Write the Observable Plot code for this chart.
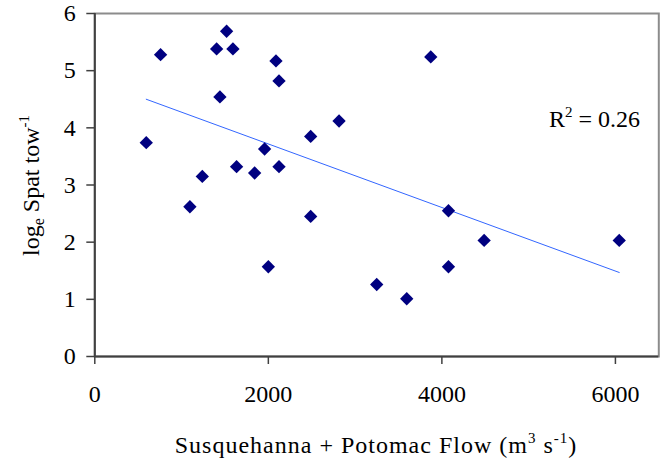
<!DOCTYPE html>
<html><head><meta charset="utf-8">
<script src="https://cdn.jsdelivr.net/npm/d3@7"></script>
<script src="https://cdn.jsdelivr.net/npm/@observablehq/plot@0.6"></script>
<style>
html,body{margin:0;padding:0;background:#fff}
#chart svg{display:block}
</style>
</head><body><div id="chart"></div>
<script>
// Data
const flow = [593, 758, 1096, 1239, 1404, 1442, 1519, 1592, 1634, 1842, 1957, 2000, 2088, 2123, 2123, 2488, 2488, 2815, 3249, 3595, 3872, 4076, 4076, 4487, 6044];
const spat = [3.74, 5.28, 2.62, 3.15, 5.38, 4.54, 5.69, 5.38, 3.32, 3.21, 3.63, 1.57, 5.17, 4.82, 3.32, 3.85, 2.45, 4.12, 1.26, 1.01, 5.24, 2.55, 1.57, 2.03, 2.03];
const trendX = [593, 6044];
const trendY = [4.50, 1.47];
const xTicks = [0, 2000, 4000, 6000];
const yTicks = [0, 1, 2, 3, 4, 5, 6];
const r2Label = "0.26";

const points = flow.map((f, i) => ({flow: f, spat: spat[i]}));
const trend = trendX.map((f, i) => ({flow: f, spat: trendY[i]}));

const FONT = "'Liberation Serif', 'Times New Roman', serif";

const plot = Plot.plot({
  width: 661,
  height: 465,
  marginLeft: 94.3,
  marginRight: 2.7,
  marginTop: 13,
  marginBottom: 109,
  style: {fontFamily: FONT, fontSize: "24px", color: "#000", background: "#fff", overflow: "visible"},
  x: {domain: [0, 6500]},
  y: {domain: [0, 6]},
  marks: [
    Plot.frame({stroke: "#8c8c8c", strokeWidth: 2}),
    Plot.axisX({ticks: xTicks, tickFormat: d => String(d), tickSize: 8, tickPadding: 20, label: null, stroke: "#404040", strokeWidth: 1.5}),
    Plot.axisY({ticks: yTicks, tickFormat: d => String(d), tickSize: 8, tickPadding: 11, label: null, stroke: "#404040", strokeWidth: 1.5}),
    Plot.ruleX([0], {stroke: "#404040", strokeWidth: 2}),
    Plot.ruleY([0], {stroke: "#404040", strokeWidth: 2}),
    Plot.line(trend, {x: "flow", y: "spat", stroke: "#3366ff", strokeWidth: 1}),
    Plot.dot(points, {x: "flow", y: "spat", symbol: "diamond2", r: 6, fill: "#000080", stroke: "none"})
  ]
});

const svg = d3.select(plot);

// R² annotation
const r2 = svg.append("text")
  .attr("x", 640).attr("y", 127)
  .attr("text-anchor", "end")
  .attr("font-family", FONT).attr("font-size", 24).attr("fill", "#000");
r2.append("tspan").text("R");
r2.append("tspan").attr("dy", -10).attr("font-size", 15).text("2");
r2.append("tspan").attr("dy", 10).text(" = " + r2Label);

// X axis title
const xt = svg.append("text")
  .attr("x", 376).attr("y", 453)
  .attr("text-anchor", "middle")
  .attr("font-family", FONT).attr("font-size", 24).attr("letter-spacing", 1).attr("fill", "#000");
xt.append("tspan").text("Susquehanna + Potomac Flow (m");
xt.append("tspan").attr("dy", -10).attr("font-size", 15).text("3");
xt.append("tspan").attr("dy", 10).text(" s");
xt.append("tspan").attr("dy", -10).attr("font-size", 15).text("-1");
xt.append("tspan").attr("dy", 10).text(")");

// Y axis title
const yt = svg.append("text")
  .attr("transform", "translate(39,185.5) rotate(-90)")
  .attr("text-anchor", "middle")
  .attr("font-family", FONT).attr("font-size", 24).attr("fill", "#000");
yt.append("tspan").text("log");
yt.append("tspan").attr("dy", 5).attr("font-size", 16).text("e");
yt.append("tspan").attr("dy", -5).text(" Spat tow");
yt.append("tspan").attr("dy", -10).attr("font-size", 15).text("-1");

document.getElementById("chart").appendChild(plot);
</script>
</body></html>
